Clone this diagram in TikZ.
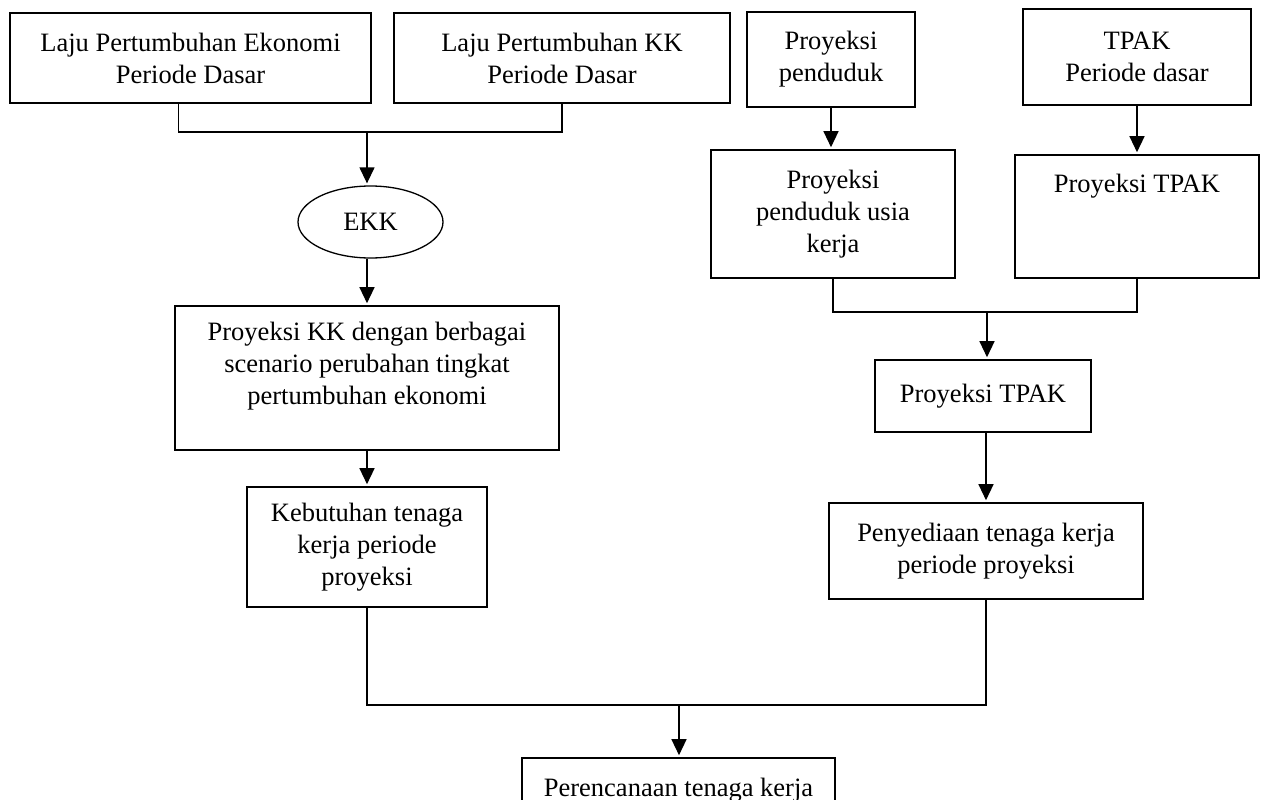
\documentclass[tikz,border=0pt]{standalone}
\usepackage{fontspec}
\setmainfont{Liberation Serif}
\usepackage{tikz}
\usetikzlibrary{arrows.meta,shapes.geometric}

\begin{document}
\begin{tikzpicture}[x=1pt, y=-1pt,
        kotak/.style={draw=black, line width=1.6pt, inner sep=0pt, align=center, font=\fontsize{26.5}{32}\selectfont},
        garis/.style={black, line width=1.3pt},
        panah/.style={black, line width=1.3pt, -{Triangle[length=16pt, width=15pt]}, shorten >=2pt}]
        \useasboundingbox (0,0) rectangle (1267,800);
        \clip (0,0) rectangle (1267,800);

        \node[kotak, minimum width=361pt, minimum height=90pt] (lpe) at (190.5,58) {Laju Pertumbuhan Ekonomi\\Periode Dasar};
        \node[kotak, minimum width=336pt, minimum height=90pt] (lpk) at (562,58) {Laju Pertumbuhan KK\\Periode Dasar};
        \node[kotak, minimum width=168pt, minimum height=95pt] (ppd) at (831,59.5) {Proyeksi\\penduduk};
        \node[kotak, minimum width=228pt, minimum height=96pt] (tpd) at (1137,57) {TPAK\\Periode dasar};

        \node[kotak, ellipse, line width=1.3pt, minimum width=145pt, minimum height=72pt] (ekk) at (370.5,222) {EKK};
        \node[kotak, minimum width=384pt, text height=98pt, text depth=46pt] (pkk) at (367,378) {Proyeksi KK dengan berbagai\\scenario perubahan tingkat\\pertumbuhan ekonomi};
        \node[kotak, minimum width=240pt, minimum height=120pt] (kbt) at (367,547) {Kebutuhan tenaga\\kerja periode\\proyeksi};

        \node[kotak, minimum width=244pt, minimum height=128pt] (puk) at (833,214) {Proyeksi\\penduduk usia\\kerja};
        \node[kotak, minimum width=244pt, text height=37pt, text depth=86pt] (tpk) at (1137,216.5) {Proyeksi TPAK};
        \node[kotak, minimum width=216pt, minimum height=72pt] (tpp) at (983,396) {Proyeksi TPAK};
        \node[kotak, minimum width=314pt, minimum height=96pt] (pny) at (986,551) {Penyediaan tenaga kerja\\periode proyeksi};

        \node[kotak, minimum width=313pt, minimum height=64pt] (prc) at (678.5,790) {Perencanaan tenaga kerja};

        \coordinate (c1) at (367,132);
        \coordinate (c2) at (987,312);
        \coordinate (c3) at (679,705);

        \draw[garis] ([xshift=-12pt]lpe.south) |- (c1) -| (lpk.south);
        \draw[panah] (c1) -- (c1 |- ekk.north);
        \draw[panah] (ekk.south -| c1) -- (c1 |- pkk.north);
        \draw[panah] (pkk.south) -- (kbt.north);

        \draw[panah] (ppd.south) -- (ppd.south |- puk.north);
        \draw[panah] (tpd.south) -- (tpk.north);
        \draw[garis] (puk.south) |- (c2) -| (tpk.south);
        \draw[panah] (c2) -- (c2 |- tpp.north);
        \draw[panah] (pny.north |- tpp.south) -- (pny.north);

        \draw[garis] (kbt.south) |- (c3) -| (pny.south);
        \draw[panah] (c3) -- (c3 |- prc.north);
\end{tikzpicture}
\end{document}
